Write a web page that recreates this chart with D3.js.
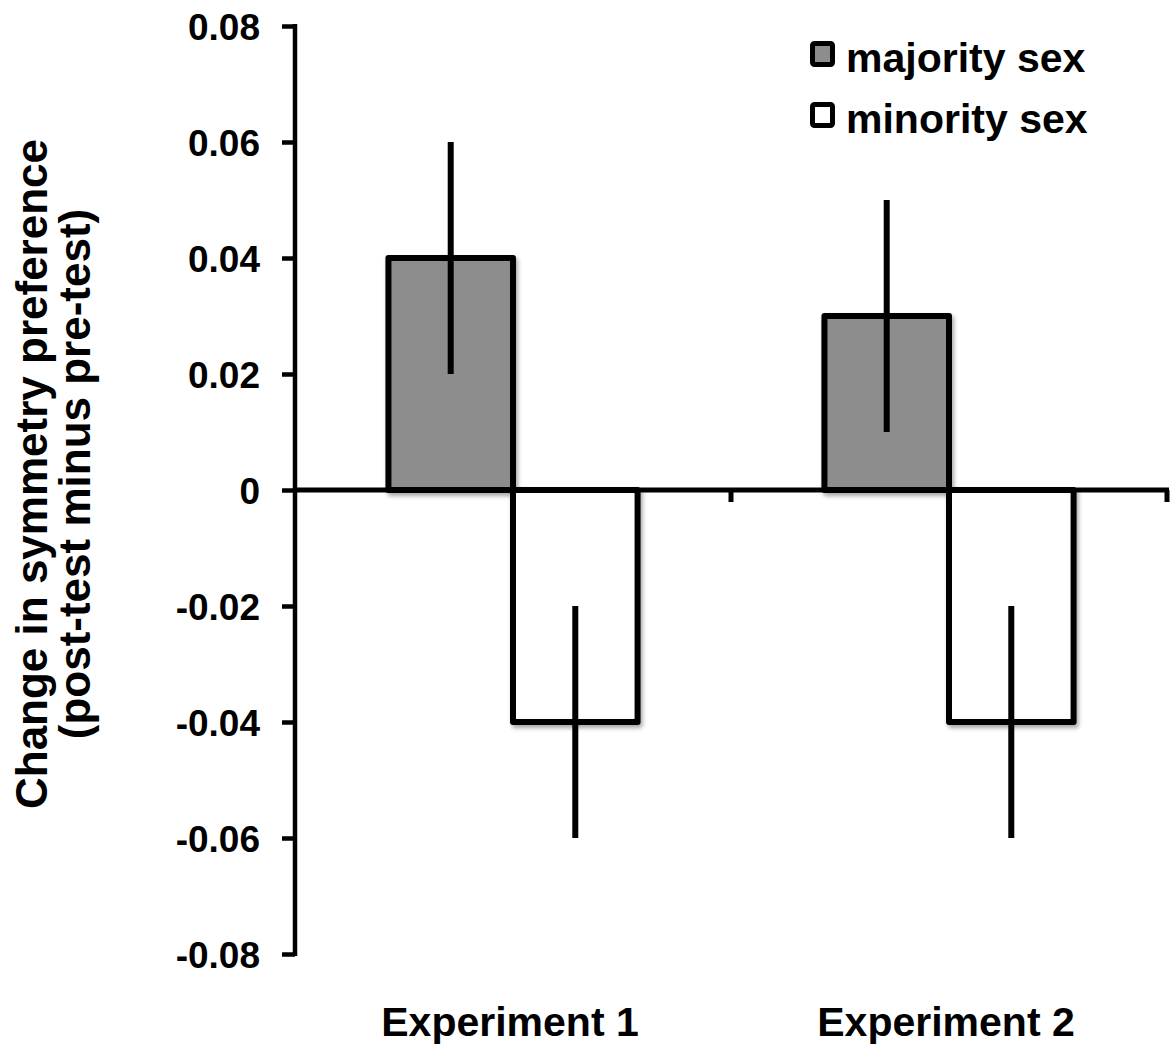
<!DOCTYPE html>
<html>
<head>
<meta charset="utf-8">
<script src="https://cdn.jsdelivr.net/npm/d3@7"></script>
<style>
  body { margin: 0; background: #fff; }
  text { font-family: "Liberation Sans", Arial, sans-serif; font-weight: bold; fill: #000; }
</style>
</head>
<body>
<svg id="chart" width="1171" height="1048"></svg>
<script>
// data
let experiments = ['Experiment 1', 'Experiment 2'];
let groups = ['majority sex', 'minority sex'];
let majority = [0.04, 0.03];
let minority = [-0.04, -0.04];
let majorityErr = [0.02, 0.02];
let minorityErr = [0.02, 0.02];
let yTicks = [0.08, 0.06, 0.04, 0.02, 0, -0.02, -0.04, -0.06, -0.08];
let yLabel = ['Change in symmetry preference', '(post-test minus pre-test)'];

let colorMajority = '#8d8d8d';
let colorMinority = '#ffffff';

let svg = d3.select('#chart');

let rows = [];
experiments.forEach((e, i) => {
  rows.push({ exp: e, group: groups[0], value: majority[i], err: majorityErr[i] });
  rows.push({ exp: e, group: groups[1], value: minority[i], err: minorityErr[i] });
});

let x0 = d3.scaleBand().domain(experiments).range([295, 1167]).padding(0);
let x1 = d3.scaleBand().domain(groups).range([0, x0.bandwidth()]).paddingInner(0).paddingOuter(0.75);
let y = d3.scaleLinear().domain([-0.08, 0.08]).range([954, 26]);
let fill = d3.scaleOrdinal().domain(groups).range([colorMajority, colorMinority]);

// soft shadow under the bars
let defs = svg.append('defs');
let shadow = defs.append('filter').attr('id', 'shadow').attr('x', '-10%').attr('y', '-10%').attr('width', '120%').attr('height', '120%');
shadow.append('feDropShadow').attr('dx', 2).attr('dy', 3).attr('stdDeviation', 2).attr('flood-color', '#000').attr('flood-opacity', 0.35);

// bars
svg.append('g')
  .selectAll('rect')
  .data(rows)
  .join('rect')
  .attr('x', d => x0(d.exp) + x1(d.group))
  .attr('y', d => y(Math.max(0, d.value)))
  .attr('width', x1.bandwidth())
  .attr('height', d => Math.abs(y(d.value) - y(0)))
  .attr('fill', d => fill(d.group))
  .attr('stroke', '#000')
  .attr('stroke-width', 6)
  .attr('stroke-linejoin', 'round')
  .attr('filter', 'url(#shadow)');

// y axis (plain hyphen for negatives, like the original)
let yAxis = svg.append('g')
  .attr('transform', 'translate(295,0)')
  .call(d3.axisLeft(y).tickValues(yTicks).tickSize(13).tickPadding(22)
    .tickFormat(d => d === 0 ? '0' : d3.format('.2f')(d).replace('\u2212', '-')));
yAxis.select('.domain').attr('d', 'M0,24V956').attr('stroke', '#000').attr('stroke-width', 4.5);
yAxis.selectAll('.tick line').attr('stroke', '#000').attr('stroke-width', 4.5);
yAxis.selectAll('.tick text').attr('font-size', 37).attr('dy', '0.36em')
  .style('font-family', '"Liberation Sans", Arial, sans-serif').style('font-weight', 'bold');

// x axis along zero, ticks between the categories
let xAxis = svg.append('g').attr('transform', `translate(0,${y(0)})`);
xAxis.append('line')
  .attr('x1', 295).attr('x2', x0.range()[1] + 2)
  .attr('stroke', '#000').attr('stroke-width', 5);
xAxis.selectAll('line.tk')
  .data(experiments)
  .join('line')
  .attr('class', 'tk')
  .attr('x1', d => x0(d) + x0.bandwidth())
  .attr('x2', d => x0(d) + x0.bandwidth())
  .attr('y1', 0).attr('y2', 12)
  .attr('stroke', '#000').attr('stroke-width', 5);

// category labels at the bottom
svg.append('g')
  .selectAll('text')
  .data(experiments)
  .join('text')
  .attr('x', d => x0(d) + x0.bandwidth() / 2 - 3)
  .attr('y', 1036)
  .attr('text-anchor', 'middle')
  .attr('font-size', 41)
  .text(d => d);

// error bars
svg.append('g')
  .selectAll('line')
  .data(rows)
  .join('line')
  .attr('x1', d => x0(d.exp) + x1(d.group) + x1.bandwidth() / 2)
  .attr('x2', d => x0(d.exp) + x1(d.group) + x1.bandwidth() / 2)
  .attr('y1', d => y(d.value - d.err))
  .attr('y2', d => y(d.value + d.err))
  .attr('stroke', '#000')
  .attr('stroke-width', 6);

// y axis title, two lines
svg.append('g')
  .attr('transform', 'translate(0,474) rotate(-90)')
  .selectAll('text')
  .data(yLabel)
  .join('text')
  .attr('x', 0)
  .attr('y', (d, i) => 47 + i * 43)
  .attr('text-anchor', 'middle')
  .attr('font-size', 44)
  .text(d => d);

// legend
let legend = svg.append('g')
  .selectAll('g')
  .data(groups)
  .join('g')
  .attr('transform', (d, i) => `translate(810,${41 + i * 61})`);
legend.append('rect')
  .attr('x', 2.5).attr('y', 2.5)
  .attr('width', 20).attr('height', 21)
  .attr('fill', d => fill(d))
  .attr('stroke', '#000').attr('stroke-width', 5)
  .attr('rx', 2);
legend.append('text')
  .attr('x', 36)
  .attr('y', 31)
  .attr('font-size', 41)
  .text(d => d);
</script>
</body>
</html>
